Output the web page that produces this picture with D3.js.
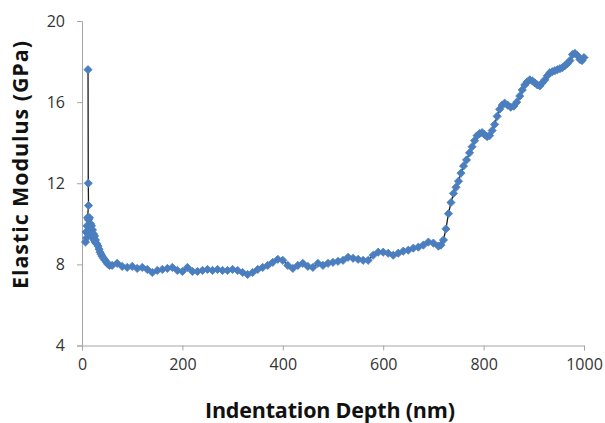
<!DOCTYPE html>
<html>
<head>
<meta charset="utf-8">
<script src="https://cdn.jsdelivr.net/npm/d3@7"></script>
<style>
  html, body { margin: 0; padding: 0; background: #fff; }
  svg { display: block; }
</style>
</head>
<body>
<svg id="chart" width="605" height="423"></svg>
<script>
// ---- data ----
const depth = [
  12, 12.5, 13, 7, 8, 9, 10, 11, 12, 13, 14, 15, 16, 17, 18, 19, 20, 21, 22, 23, 24, 25, 26, 27, 28,
  30, 32, 34, 36, 38, 40, 43, 46, 49, 52, 55,
  60, 70, 80, 90, 100, 110, 120, 130, 140, 150, 160, 170, 180, 190, 200,
  210, 220, 230, 240, 250, 260, 270, 280, 290, 300, 310, 320, 330, 340, 350,
  360, 370, 380, 390, 400, 410, 420, 430, 440, 450, 460, 470, 480, 490, 500,
  510, 520, 530, 540, 550, 560, 570, 580, 590, 600, 610, 620, 630, 640, 650,
  660, 670, 680, 690, 700, 710, 715, 720,
  725, 730, 735, 740, 745, 750, 755, 760, 766, 772, 777, 782, 787, 792, 797,
  802, 807, 812, 817, 822, 827, 832, 837, 842, 848, 854, 860, 866, 872, 877,
  882, 887, 892, 897, 902, 907, 912, 917, 922, 927, 932, 937, 942, 947, 952,
  957, 962, 967, 972, 977, 982, 987, 992, 996, 1000
];
const modulus = [
  17.6, 12.0, 10.9, 9.1, 9.6, 9.3, 9.9, 10.3, 9.5, 10.2, 9.8, 10.3, 9.6, 10.0, 9.4, 9.9, 9.5, 9.7, 9.3, 9.5, 9.2, 9.4, 9.1, 9.2, 9.05,
  9.0, 8.9, 8.75, 8.6, 8.5, 8.4, 8.3, 8.2, 8.1, 8.0, 7.95,
  7.95, 8.05, 7.9, 7.85, 7.9, 7.8, 7.85, 7.75, 7.6, 7.7, 7.75, 7.8, 7.85, 7.7, 7.65,
  7.85, 7.65, 7.65, 7.7, 7.75, 7.7, 7.75, 7.7, 7.7, 7.75, 7.7, 7.6, 7.5, 7.6, 7.75,
  7.85, 7.95, 8.1, 8.25, 8.2, 7.95, 7.8, 7.95, 8.05, 7.9, 7.85, 8.05, 7.95, 8.05, 8.1,
  8.15, 8.2, 8.35, 8.3, 8.25, 8.2, 8.2, 8.45, 8.6, 8.6, 8.55, 8.45, 8.55, 8.65, 8.7,
  8.8, 8.85, 8.95, 9.1, 9.05, 8.9, 8.95, 9.2,
  9.75, 10.5, 11.05, 11.5, 11.8, 12.1, 12.5, 12.85, 13.15, 13.5, 13.8, 14.1, 14.35, 14.45, 14.5,
  14.4, 14.3, 14.35, 14.6, 14.9, 15.3, 15.65, 15.85, 15.95, 15.85, 15.75, 15.8, 16.0, 16.3, 16.6,
  16.85, 17.0, 17.1, 17.05, 16.95, 16.85, 16.8, 16.95, 17.1, 17.3, 17.45, 17.5, 17.55, 17.6, 17.65,
  17.7, 17.8, 17.9, 18.05, 18.35, 18.4, 18.3, 18.1, 18.05, 18.2
];
const xTicks = [0, 200, 400, 600, 800, 1000];
const yTicks = [4, 8, 12, 16, 20];
const xTitle = "Indentation Depth (nm)";
const yTitle = "Elastic Modulus (GPa)";

// ---- layout ----
const svg = d3.select("#chart");
const mLeft = 82, mRight = 584, mTop = 21, mBottom = 345.5;

const x = d3.scaleLinear().domain([0, 1000]).range([mLeft, mRight]);
const y = d3.scaleLinear().domain([4, 20]).range([mBottom, mTop]);

const axisColor = "#a6a6a6";
const tickTextColor = "#333333";
const font = "'Open Sans', 'Liberation Sans', sans-serif";

// x axis
const gx = svg.append("g").attr("transform", `translate(0,${mBottom})`)
  .call(d3.axisBottom(x).tickValues(xTicks).tickSize(5).tickPadding(8).tickFormat(d3.format("d")));
gx.select(".domain").attr("stroke", axisColor).attr("stroke-width", 1);
gx.selectAll(".tick line").attr("stroke", axisColor);
gx.selectAll(".tick text").attr("fill", tickTextColor)
  .style("font-family", font).style("font-size", "16px");

// y axis
const gy = svg.append("g").attr("transform", `translate(${mLeft},0)`)
  .call(d3.axisLeft(y).tickValues(yTicks).tickSize(5).tickPadding(12).tickFormat(d3.format("d")));
gy.select(".domain").attr("stroke", axisColor).attr("stroke-width", 1);
gy.selectAll(".tick line").attr("stroke", axisColor);
gy.selectAll(".tick text").attr("fill", tickTextColor)
  .style("font-family", font).style("font-size", "16px");

// line
const pts = depth.map((d, i) => [d, modulus[i]]);
svg.append("path")
  .datum(pts)
  .attr("fill", "none")
  .attr("stroke", "#1a1a1a")
  .attr("stroke-width", 1.3)
  .attr("d", d3.line().x(d => x(d[0])).y(d => y(d[1])));

// diamond markers
const r = 4.1;
const diamond = `M0,${-r}L${r},0L0,${r}L${-r},0Z`;
svg.append("g").selectAll("path")
  .data(pts)
  .join("path")
  .attr("d", diamond)
  .attr("transform", d => `translate(${x(d[0])},${y(d[1])})`)
  .attr("fill", "#4a7ebf")
  .attr("stroke", "#4a7ebf")
  .attr("stroke-width", 0.8);

// titles
svg.append("text")
  .attr("x", 330).attr("y", 418)
  .attr("text-anchor", "middle")
  .attr("textLength", 250)
  .style("font-family", font).style("font-weight", "bold").style("font-size", "21.5px")
  .attr("fill", "#111")
  .text(xTitle);

svg.append("text")
  .attr("transform", "translate(28,165) rotate(-90)")
  .attr("text-anchor", "middle")
  .attr("textLength", 248)
  .style("font-family", font).style("font-weight", "bold").style("font-size", "21.5px")
  .attr("fill", "#111")
  .text(yTitle);
</script>
</body>
</html>
